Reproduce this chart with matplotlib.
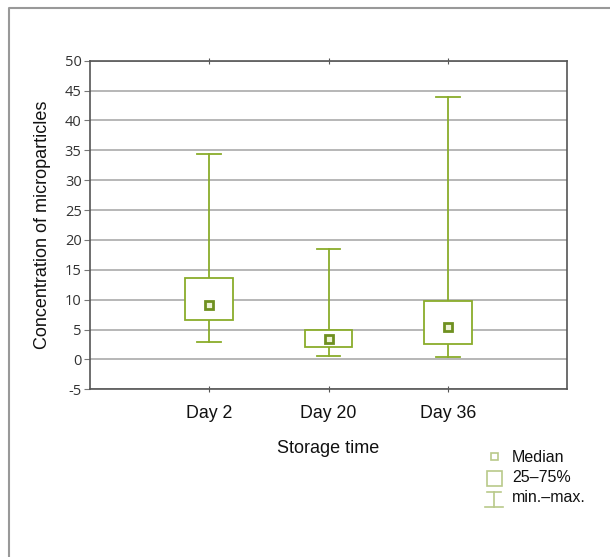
import matplotlib.pyplot as plt
from matplotlib.lines import Line2D
from matplotlib.patches import Rectangle

days = ['Day 2', 'Day 20', 'Day 36']
mins = [3.0, 0.5, 0.4]
q25 = [6.6, 2.1, 2.6]
medians = [9.1, 3.5, 5.4]
q75 = [13.6, 5.0, 9.7]
maxs = [34.4, 18.5, 44.0]
y_ticks = [-5, 0, 5, 10, 15, 20, 25, 30, 35, 40, 45, 50]

green = '#8aac2b'
dark_green = '#6f9020'
pale = '#b9c98a'

fig = plt.figure(figsize=(6.10, 5.57), dpi=100)
ax = fig.add_axes([90 / 610, 1 - 389.3 / 557, 477 / 610, 328.6 / 557])

pos = [1, 2, 3]
box_w = 0.4
cap_w = 0.2
for x, lo, a, m, b, hi in zip(pos, mins, q25, medians, q75, maxs):
    ax.plot([x, x], [b, hi], color=green, lw=1.3, zorder=3)
    ax.plot([x, x], [lo, a], color=green, lw=1.3, zorder=3)
    ax.plot([x - cap_w / 2, x + cap_w / 2], [hi, hi], color=green, lw=1.3, zorder=3)
    ax.plot([x - cap_w / 2, x + cap_w / 2], [lo, lo], color=green, lw=1.3, zorder=3)
    ax.add_patch(Rectangle((x - box_w / 2, a), box_w, b - a, facecolor='white',
                           edgecolor=green, lw=1.3, zorder=3))
    ax.plot([x], [m], marker='s', ms=6, mfc='#eef3d8', mec=dark_green, mew=2, zorder=4)

ax.set_xlim(0, 4)
ax.set_ylim(-5, 50)
ax.set_xticks(pos)
ax.set_xticklabels(days, fontsize=12.8, family='Liberation Sans', color='#111111')
ax.set_yticks(y_ticks)
ax.set_yticklabels([str(t) for t in y_ticks], fontsize=10.5, family='Open Sans', color='#333333')
ax.yaxis.grid(True, color='#aaaaaa', lw=1.2)
ax.set_axisbelow(True)
for s in ax.spines.values():
    s.set_color('#555555')
    s.set_linewidth(1.2)
ax.tick_params(axis='y', direction='out', length=4, color='#777777', pad=2)
ax.tick_params(axis='x', direction='inout', length=4, color='#555555', pad=9,
               top=True)

ax.set_ylabel('Concentration of microparticles', fontsize=13,
              family='Liberation Sans', color='#111111', labelpad=10)
ax.set_xlabel('Storage time', fontsize=13, family='Liberation Sans',
              color='#111111', labelpad=13)

# outer frame (top and left only)
fig.add_artist(Line2D([9 / 610, 9 / 610, 1], [0, 1 - 8 / 557, 1 - 8 / 557],
                      color='#999999', lw=1.5))

# legend
def fx(px):
    return px / 610


def fy(py):
    return 1 - py / 557


fig.add_artist(Rectangle((fx(491), fy(460)), fx(7) - fx(0), fy(0) - fy(7),
                         facecolor='none', edgecolor=pale, lw=1.2))
fig.add_artist(Rectangle((fx(486.5), fy(486)), fx(15) - fx(0), fy(0) - fy(15),
                         facecolor='none', edgecolor=pale, lw=1.2))
fig.add_artist(Line2D([fx(494), fx(494)], [fy(492), fy(507)], color=pale, lw=1.2))
fig.add_artist(Line2D([fx(487), fx(501)], [fy(492), fy(492)], color=pale, lw=1.2))
fig.add_artist(Line2D([fx(485), fx(503)], [fy(507), fy(507)], color=pale, lw=1.2))
for txt, py in [('Median', 457), ('25–75%', 478), ('min.–max.', 498)]:
    fig.text(fx(512), fy(py), txt, fontsize=11.5, family='Liberation Sans',
             color='#111111', va='center', ha='left')

fig.savefig('out.png', dpi=100)
